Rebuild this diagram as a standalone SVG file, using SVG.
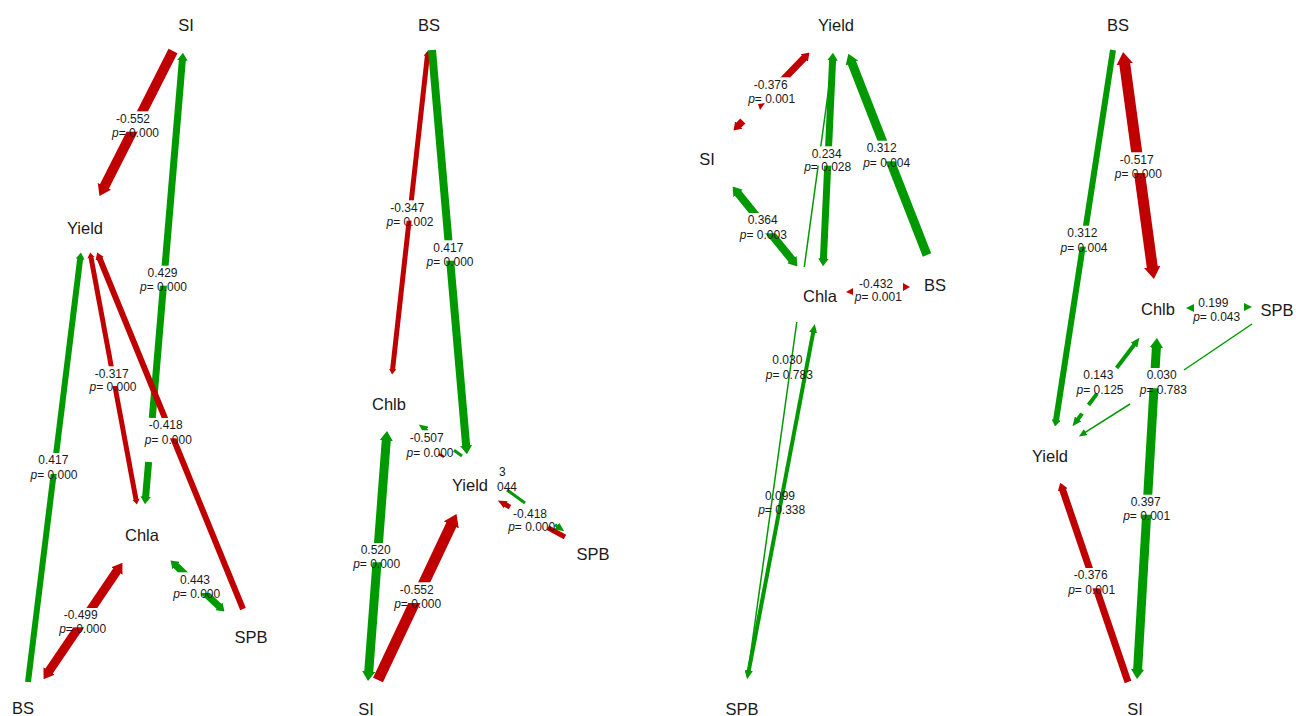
<svg xmlns="http://www.w3.org/2000/svg" width="1296" height="716" viewBox="0 0 1296 716">
<style>
.r{stroke:#C00000;fill:none;stroke-linecap:butt}
.g{stroke:#009900;fill:none;stroke-linecap:butt}
.rf{fill:#C00000}
.gf{fill:#009900}
.bg{fill:#ffffff}
.n{font-family:"Liberation Sans",Arial,sans-serif;font-size:16.5px;fill:#1a1a1a;text-anchor:middle}
.l{font-family:"Liberation Sans",Arial,sans-serif;font-size:12px;fill:#1a1a1a;text-anchor:middle}
.ls{font-family:"Liberation Sans",Arial,sans-serif;font-size:12px;fill:#1a1a1a;text-anchor:start}
.i{font-style:italic}
</style>
<defs>
<marker id="rb" markerUnits="strokeWidth" viewBox="0 0 11 15" refX="1" refY="7.5" markerWidth="1.1" markerHeight="1.5" orient="auto-start-reverse"><path d="M0,0 L11,7.5 L0,15 z" fill="#C00000"/></marker>
<marker id="gb" markerUnits="strokeWidth" viewBox="0 0 11 15" refX="1" refY="7.5" markerWidth="1.1" markerHeight="1.5" orient="auto-start-reverse"><path d="M0,0 L11,7.5 L0,15 z" fill="#009900"/></marker>
<marker id="rs" markerUnits="userSpaceOnUse" viewBox="0 0 9 8" refX="1" refY="4" markerWidth="9" markerHeight="8" orient="auto-start-reverse"><path d="M0,0 L9,4 L0,8 z" fill="#C00000"/></marker>
<marker id="gs" markerUnits="userSpaceOnUse" viewBox="0 0 9 8" refX="1" refY="4" markerWidth="9" markerHeight="8" orient="auto-start-reverse"><path d="M0,0 L9,4 L0,8 z" fill="#009900"/></marker>
<marker id="gt" markerUnits="userSpaceOnUse" viewBox="0 0 8 7" refX="1" refY="3.5" markerWidth="8" markerHeight="7" orient="auto-start-reverse"><path d="M0,0 L8,3.5 L0,7 z" fill="#009900"/></marker>
</defs>
<rect width="1296" height="716" fill="#ffffff"/>

<g id="connectors">
<!-- Panel 1 -->
<line class="r" stroke-width="10" x1="173" y1="51" x2="104" y2="187.2" marker-end="url(#rb)"/>
<line class="g" stroke-width="7" x1="182.4" y1="59.7" x2="152.3" y2="418" marker-start="url(#gb)"/>
<line class="g" stroke-width="7" x1="148.6" y1="462" x2="145.6" y2="497.3" marker-end="url(#gb)"/>
<line class="g" stroke-width="6" x1="28" y1="682" x2="80.2" y2="258.5" marker-end="url(#gb)"/>
<line class="r" stroke-width="5" x1="91" y1="257.4" x2="136" y2="499.6" marker-start="url(#rb)" marker-end="url(#rb)"/>
<line class="r" stroke-width="6" x1="99.5" y1="258.1" x2="243" y2="609" marker-start="url(#rb)"/>
<line class="r" stroke-width="9" x1="48.6" y1="671.8" x2="117.4" y2="570.2" marker-start="url(#rb)" marker-end="url(#rb)"/>
<line class="g" stroke-width="7" x1="175.6" y1="565.3" x2="187.4" y2="576.5" marker-start="url(#gb)"/>
<line class="g" stroke-width="7" x1="203.4" y1="591.6" x2="219.4" y2="606.7" marker-end="url(#gb)"/>

<!-- Panel 2 -->
<line class="r" stroke-width="5" x1="427.4" y1="55.5" x2="392.6" y2="369.5" marker-start="url(#rb)" marker-end="url(#rb)"/>
<line class="g" stroke-width="8" x1="432" y1="50" x2="466.2" y2="446.2" marker-end="url(#gb)"/>
<line class="g" stroke-width="9" x1="386.3" y1="439.9" x2="368.7" y2="672.1" marker-start="url(#gb)" marker-end="url(#gb)"/>
<line class="r" stroke-width="11" x1="378" y1="680" x2="451.8" y2="523.9" marker-end="url(#rb)"/>
<line class="g" stroke-width="3" x1="425.3" y1="429.3" x2="427.5" y2="430.9" marker-start="url(#gs)"/>
<line class="g" stroke-width="3" x1="454" y1="450.2" x2="462" y2="456"/>
<line class="r" stroke-width="2.5" x1="409" y1="434.5" x2="414" y2="437.5"/>
<line class="r" stroke-width="2.5" x1="439" y1="454" x2="444" y2="457"/>
<line class="g" stroke-width="3" x1="507" y1="490" x2="525" y2="503"/>
<line class="g" stroke-width="3" x1="555" y1="524.8" x2="557.7" y2="526.7" marker-end="url(#gs)"/>
<line class="r" stroke-width="5" x1="504.9" y1="504.3" x2="510" y2="507.1" marker-start="url(#rs)"/>
<line class="r" stroke-width="5" x1="548" y1="527.8" x2="565" y2="537"/>

<!-- Panel 3 -->
<line class="r" stroke-width="7" x1="781.9" y1="80.9" x2="804.6" y2="57.5" marker-end="url(#rb)"/>
<line class="r" stroke-width="7" x1="738.4" y1="125.5" x2="742.8" y2="121" marker-start="url(#rb)"/>
<polygon class="rf" points="758,104 765,103 760,110"/>
<line class="g" stroke-width="8" x1="737.6" y1="192.8" x2="792.4" y2="260.2" marker-start="url(#gb)" marker-end="url(#gb)"/>
<line class="g" stroke-width="7" x1="832.6" y1="59.7" x2="823.4" y2="259.3" marker-start="url(#gb)" marker-end="url(#gb)"/>
<line class="g" stroke-width="1.5" x1="833" y1="57" x2="804.3" y2="267"/>
<line class="g" stroke-width="1.5" x1="796.8" y1="322" x2="748.1" y2="672.1" marker-end="url(#gt)"/>
<line class="g" stroke-width="4" x1="813.3" y1="331.8" x2="748.7" y2="671.2" marker-start="url(#gs)" marker-end="url(#gs)"/>
<polygon class="rf" points="846,292 853,288 853,295"/>
<polygon class="rf" points="910,287 903,283 903,291"/>
<line class="g" stroke-width="9" x1="927" y1="255" x2="851.6" y2="62.2" marker-end="url(#gb)"/>

<!-- Panel 4 -->
<line class="g" stroke-width="6" x1="1113" y1="50" x2="1056" y2="420.5" marker-end="url(#gb)"/>
<line class="r" stroke-width="11" x1="1124.6" y1="63" x2="1152.4" y2="268" marker-start="url(#rb)" marker-end="url(#rb)"/>
<polygon class="gf" points="1186,308 1194,304 1194,312"/>
<polygon class="gf" points="1252,307 1244,303 1244,311"/>
<line class="g" stroke-width="4" x1="1134.6" y1="344.2" x2="1116.6" y2="368" marker-start="url(#gs)"/>
<line class="g" stroke-width="4" x1="1097" y1="393.6" x2="1088.5" y2="405"/>
<line class="g" stroke-width="4" x1="1082.1" y1="413.6" x2="1077.4" y2="419.8" marker-end="url(#gs)"/>
<line class="g" stroke-width="1.5" x1="1252" y1="324" x2="1184" y2="370"/>
<line class="g" stroke-width="1.5" x1="1130" y1="404" x2="1084.8" y2="432.7" marker-end="url(#gt)"/>
<line class="g" stroke-width="9" x1="1156.4" y1="346.9" x2="1137.6" y2="670.1" marker-start="url(#gb)" marker-end="url(#gb)"/>
<line class="r" stroke-width="7" x1="1128" y1="682" x2="1062.5" y2="489.3" marker-end="url(#rb)"/>
</g>

<g id="edge-labels">
<!-- Panel 1 -->
<rect class="bg" x="114" y="111.3" width="38" height="20.4"/>
<text class="l" x="133" y="122.6">-0.552</text><text class="l" x="135.5" y="137"><tspan class="i">p</tspan>= 0.000</text>
<rect class="bg" x="145.5" y="265.7" width="34" height="20"/>
<text class="l" x="162.5" y="277">0.429</text><text class="l" x="163.5" y="291"><tspan class="i">p</tspan>= 0.000</text>
<rect class="bg" x="36.3" y="453" width="34" height="21"/>
<text class="l" x="53.3" y="464.3">0.417</text><text class="l" x="54" y="479.3"><tspan class="i">p</tspan>= 0.000</text>
<rect class="bg" x="92.7" y="366.3" width="38" height="19.7"/>
<text class="l" x="111.7" y="377.6">-0.317</text><text class="l" x="113" y="391.3"><tspan class="i">p</tspan>= 0.000</text>
<rect class="bg" x="146.7" y="418" width="38" height="20.3"/>
<text class="l" x="165.7" y="429.3">-0.418</text><text class="l" x="168.3" y="443.6"><tspan class="i">p</tspan>= 0.000</text>
<rect class="bg" x="61.7" y="608" width="38" height="19.3"/>
<text class="l" x="80.7" y="619.3">-0.499</text><text class="l" x="82.7" y="632.6"><tspan class="i">p</tspan>= 0.000</text>
<rect class="bg" x="178" y="572.3" width="34" height="20.7"/>
<text class="l" x="195" y="583.6">0.443</text><text class="l" x="196.7" y="598.3"><tspan class="i">p</tspan>= 0.000</text>
<!-- Panel 2 -->
<rect class="bg" x="388.3" y="200.3" width="38" height="20.4"/>
<text class="l" x="407.3" y="211.6">-0.347</text><text class="l" x="410" y="226"><tspan class="i">p</tspan>= 0.002</text>
<rect class="bg" x="431.3" y="240.3" width="34" height="20.4"/>
<text class="l" x="448.3" y="251.6">0.417</text><text class="l" x="450" y="266"><tspan class="i">p</tspan>= 0.000</text>
<rect class="bg" x="407.7" y="430.3" width="38" height="21.4"/>
<text class="l" x="426.7" y="441.6">-0.507</text><text class="l" x="430" y="457"><tspan class="i">p</tspan>= 0.000</text>
<text class="ls" x="499" y="476">3</text><text class="ls" x="497" y="491">044</text>
<rect class="bg" x="511" y="506.3" width="38" height="19.4"/>
<text class="l" x="530" y="517.6">-0.418</text><text class="l" x="531.7" y="531"><tspan class="i">p</tspan>= 0.000</text>
<rect class="bg" x="358.7" y="543" width="34" height="19.3"/>
<text class="l" x="375.7" y="554.3">0.520</text><text class="l" x="376.7" y="567.6"><tspan class="i">p</tspan>= 0.000</text>
<rect class="bg" x="397.7" y="582.3" width="38" height="20.7"/>
<text class="l" x="416.7" y="593.6">-0.552</text><text class="l" x="417.7" y="608.3"><tspan class="i">p</tspan>= 0.000</text>
<!-- Panel 3 -->
<rect class="bg" x="751.7" y="77.3" width="38" height="20.7"/>
<text class="l" x="770.7" y="88.6">-0.376</text><text class="l" x="771.7" y="103.3"><tspan class="i">p</tspan>= 0.001</text>
<rect class="bg" x="745.7" y="213" width="34" height="20.3"/>
<text class="l" x="762.7" y="224.3">0.364</text><text class="l" x="763.3" y="238.6"><tspan class="i">p</tspan>= 0.003</text>
<rect class="bg" x="809.7" y="146.3" width="34" height="19.4"/>
<text class="l" x="826.7" y="157.6">0.234</text><text class="l" x="827.7" y="171"><tspan class="i">p</tspan>= 0.028</text>
<rect class="bg" x="864.7" y="140.7" width="34" height="20.6"/>
<text class="l" x="881.7" y="152">0.312</text><text class="l" x="886.7" y="166.6"><tspan class="i">p</tspan>= 0.004</text>
<rect class="bg" x="857" y="276.3" width="38" height="19.4"/>
<text class="l" x="876" y="287.6">-0.432</text><text class="l" x="878.3" y="301"><tspan class="i">p</tspan>= 0.001</text>
<text class="l" x="787.3" y="364.3">0.030</text><text class="l" x="789.3" y="378.6"><tspan class="i">p</tspan>= 0.783</text>
<text class="l" x="780" y="500">0.099</text><text class="l" x="781.7" y="514.3"><tspan class="i">p</tspan>= 0.338</text>
<!-- Panel 4 -->
<rect class="bg" x="1117.7" y="152.3" width="38" height="20.7"/>
<text class="l" x="1136.7" y="163.6">-0.517</text><text class="l" x="1138.3" y="178.3"><tspan class="i">p</tspan>= 0.000</text>
<rect class="bg" x="1065.3" y="225.7" width="34" height="21"/>
<text class="l" x="1082.3" y="237">0.312</text><text class="l" x="1084" y="252"><tspan class="i">p</tspan>= 0.004</text>
<rect class="bg" x="1196.3" y="295.7" width="34" height="20"/>
<text class="l" x="1213.3" y="307">0.199</text><text class="l" x="1216.7" y="321"><tspan class="i">p</tspan>= 0.043</text>
<rect class="bg" x="1081.3" y="368" width="34" height="20.3"/>
<text class="l" x="1098.3" y="379.3">0.143</text><text class="l" x="1100" y="393.6"><tspan class="i">p</tspan>= 0.125</text>
<rect class="bg" x="1144.7" y="368" width="34" height="20.3"/>
<text class="l" x="1161.7" y="379.3">0.030</text><text class="l" x="1163.3" y="393.6"><tspan class="i">p</tspan>= 0.783</text>
<rect class="bg" x="1128.7" y="494.7" width="34" height="20"/>
<text class="l" x="1145.7" y="506">0.397</text><text class="l" x="1146.7" y="520"><tspan class="i">p</tspan>= 0.001</text>
<rect class="bg" x="1071.7" y="568" width="38" height="20.3"/>
<text class="l" x="1090.7" y="579.3">-0.376</text><text class="l" x="1091.7" y="593.6"><tspan class="i">p</tspan>= 0.001</text>
</g>

<!-- Panel 1 nodes -->
<g id="p1-SI"><text class="n" x="186" y="31">SI</text></g>
<g id="p1-Yield"><text class="n" x="85" y="234">Yield</text></g>
<g id="p1-Chla"><text class="n" x="142" y="541">Chla</text></g>
<g id="p1-BS"><text class="n" x="23" y="714">BS</text></g>
<g id="p1-SPB"><text class="n" x="251" y="643">SPB</text></g>
<!-- Panel 2 nodes -->
<g id="p2-BS"><text class="n" x="429" y="31">BS</text></g>
<g id="p2-Chlb"><text class="n" x="389" y="410">Chlb</text></g>
<g id="p2-Yield"><text class="n" x="470" y="491">Yield</text></g>
<g id="p2-SI"><text class="n" x="366" y="715">SI</text></g>
<g id="p2-SPB"><text class="n" x="593" y="560">SPB</text></g>
<!-- Panel 3 nodes -->
<g id="p3-Yield"><text class="n" x="836" y="31">Yield</text></g>
<g id="p3-SI"><text class="n" x="707" y="165">SI</text></g>
<g id="p3-Chla"><text class="n" x="820" y="302">Chla</text></g>
<g id="p3-BS"><text class="n" x="935" y="291">BS</text></g>
<g id="p3-SPB"><text class="n" x="742" y="715">SPB</text></g>
<!-- Panel 4 nodes -->
<g id="p4-BS"><text class="n" x="1118" y="31">BS</text></g>
<g id="p4-Chlb"><text class="n" x="1158" y="315">Chlb</text></g>
<g id="p4-SPB"><text class="n" x="1277" y="316">SPB</text></g>
<g id="p4-Yield"><text class="n" x="1050" y="462">Yield</text></g>
<g id="p4-SI"><text class="n" x="1135" y="715">SI</text></g>
</svg>
